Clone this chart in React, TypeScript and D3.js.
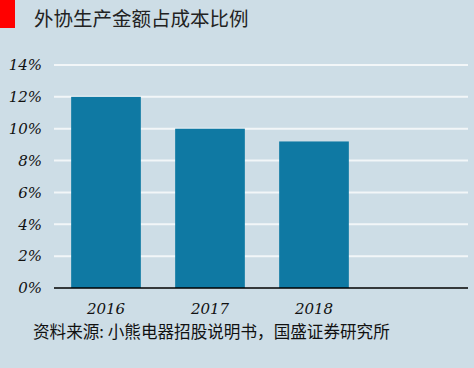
import React from "react";
import * as d3 from "d3";

// data
const years = ["2016", "2017", "2018"];
const ratios = [12.0, 10.0, 9.2];
const yTicks = [0, 2, 4, 6, 8, 10, 12, 14];
const title = "外协生产金额占成本比例";
const source = "资料来源: 小熊电器招股说明书，国盛证券研究所";

const W = 474;
const H = 368;
const left = 54;
const right = 470;
const top = 65;
const bottom = 288;

export default function App() {
  // an empty fourth slot keeps the bars to the left like the original
  const x = d3
    .scaleBand<string>()
    .domain([...years, ""])
    .range([left, right])
    .paddingInner(0.33)
    .paddingOuter(0.165);
  const y = d3.scaleLinear().domain([0, 14]).range([bottom, top]);

  const tickFont = "'DejaVu Serif', serif";

  return (
    <svg
      width={W}
      height={H}
      style={{ position: "absolute", left: 0, top: 0, display: "block" }}
    >
      <rect width={W} height={H} fill="#cddde6" />
      <rect x={0} y={0} width={15} height={28} fill="#ff0000" />
      <text
        x={34}
        y={26}
        fontSize={19.5}
        fill="#222"
        fontFamily="'Noto Sans CJK SC', sans-serif"
      >
        {title}
      </text>

      {/* grid lines */}
      {yTicks
        .filter((t) => t > 0)
        .map((t) => (
          <line
            key={t}
            x1={left}
            x2={468}
            y1={y(t)}
            y2={y(t)}
            stroke="#f2f6f8"
            strokeWidth={2}
          />
        ))}

      {/* y tick labels */}
      {yTicks.map((t) => (
        <text
          key={t}
          x={42}
          y={y(t)}
          dy="0.35em"
          textAnchor="end"
          fontSize={15}
          fontStyle="italic"
          fill="#111"
          fontFamily={tickFont}
        >
          {t}%
        </text>
      ))}

      {/* bars */}
      {years.map((yr, i) => (
        <rect
          key={yr}
          x={x(yr)!}
          y={y(ratios[i])}
          width={x.bandwidth()}
          height={bottom - y(ratios[i])}
          fill="#0f79a3"
        />
      ))}

      {/* x axis */}
      <line x1={left} x2={468} y1={bottom} y2={bottom} stroke="#000" strokeWidth={1.5} />
      {years.map((yr) => (
        <text
          key={yr}
          x={x(yr)! + x.bandwidth() / 2}
          y={314}
          textAnchor="middle"
          fontSize={15}
          fontStyle="italic"
          fill="#111"
          fontFamily={tickFont}
        >
          {yr}
        </text>
      ))}

      <text
        x={33}
        y={338}
        fontSize={16.6}
        fill="#111"
        fontFamily="'Noto Sans CJK SC', sans-serif"
      >
        {source}
      </text>
    </svg>
  );
}
